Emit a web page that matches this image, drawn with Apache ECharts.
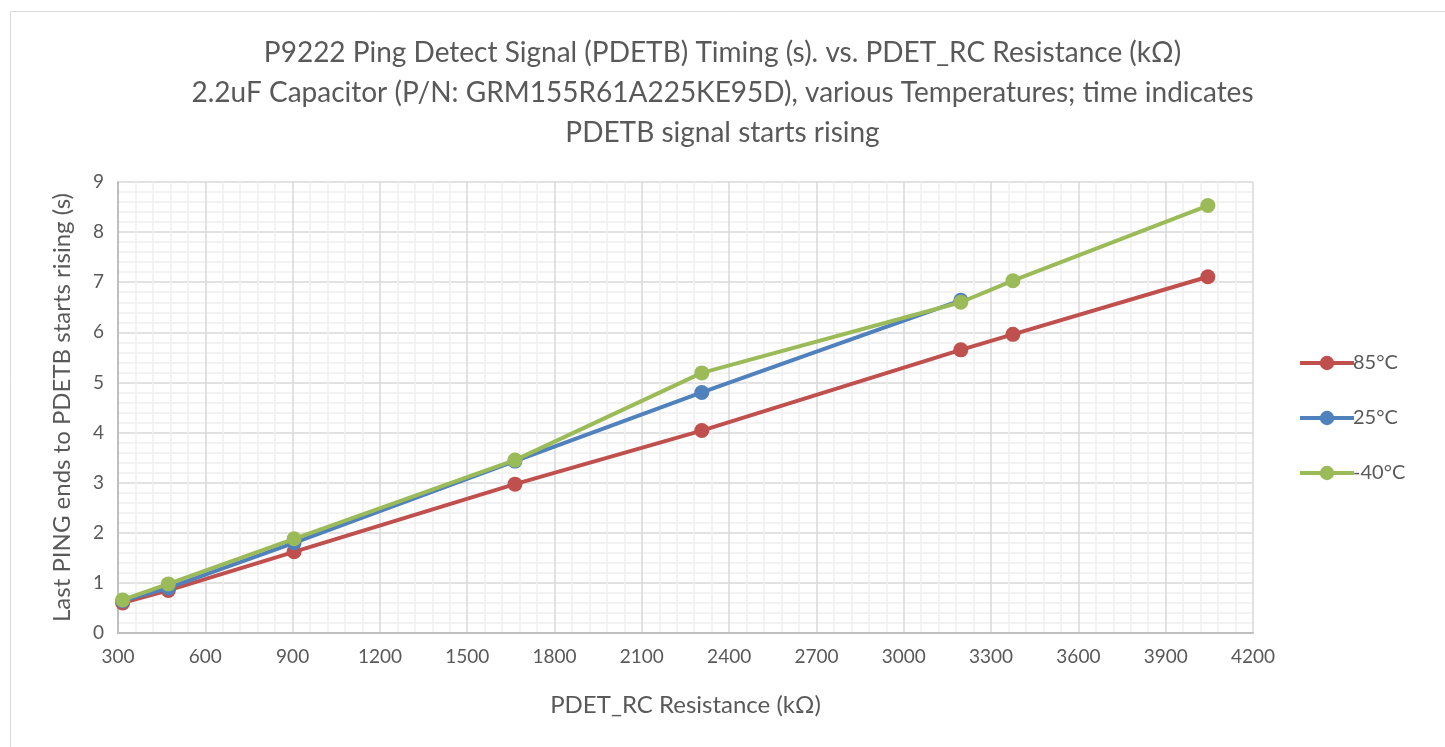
<!DOCTYPE html>
<html>
<head>
<meta charset="utf-8">
<script src="https://cdn.jsdelivr.net/npm/echarts@6/dist/echarts.min.js"></script>
<style>
  html, body { margin: 0; padding: 0; background: #fff; }
  #chart { width: 1445px; height: 747px; }
</style>
</head>
<body>
<div id="chart"></div>
<script>
// resistance values (kΩ) on the x axis
const resistance = [316, 473, 905, 1664, 2306, 3196, 3375, 4045];
// timing (s) per temperature
const t85 = [0.60, 0.85, 1.62, 2.97, 4.04, 5.65, 5.96, 7.11];
const t25 = [0.64, 0.90, 1.80, 3.43, 4.80, 6.64];
const tMinus40 = [0.66, 0.98, 1.88, 3.45, 5.19, 6.60, 7.03, 8.53];
const seriesNames = ['85°C', '25°C', '-40°C'];
const titleLines = [
  'P9222 Ping Detect Signal (PDETB) Timing (s). vs. PDET_RC Resistance (kΩ)',
  '2.2uF Capacitor (P/N: GRM155R61A225KE95D), various Temperatures; time indicates',
  'PDETB signal starts rising'
];

const FONT = 'Lato';
const colors = ['#C0504D', '#4F81BD', '#9BBB59'];
const pair = (ys) => ys.map((y, i) => [resistance[i], y]);

const chart = echarts.init(document.getElementById('chart'));

const mkSeries = (name, ys, color, z) => ({
  name,
  type: 'line',
  data: pair(ys),
  symbol: 'circle',
  symbolSize: 15,
  z,
  lineStyle: { color, width: 4 },
  itemStyle: { color },
  emphasis: { disabled: true },
  animation: false
});

chart.setOption({
  animation: false,
  textStyle: { fontFamily: FONT },
  graphic: [{
    type: 'rect',
    shape: { x: 10.5, y: 11.5, width: 1445, height: 760 },
    style: { fill: 'none', stroke: '#D9D9D9', lineWidth: 1 },
    silent: true
  }],
  title: {
    text: titleLines.join('\n'),
    left: 'center',
    top: 28,
    textStyle: {
      fontFamily: FONT,
      fontSize: 28,
      fontWeight: 'normal',
      color: '#595959',
      lineHeight: 40
    }
  },
  legend: {
    orient: 'vertical',
    left: 1293,
    top: 348,
    itemWidth: 54,
    itemHeight: 18,
    itemGap: 35,
    data: seriesNames,
    lineStyle: { width: 4 },
    textStyle: { fontFamily: FONT, fontSize: 20, color: '#595959', padding: [0, 0, 0, -6] }
  },
  grid: { left: 118, right: 192, top: 182, bottom: 114 },
  xAxis: {
    type: 'value',
    min: 300,
    max: 4200,
    interval: 300,
    name: 'PDET_RC Resistance (kΩ)',
    nameLocation: 'middle',
    nameGap: 60,
    nameTextStyle: { fontFamily: FONT, fontSize: 24, color: '#595959' },
    axisLine: { show: true, lineStyle: { color: '#BFBFBF', width: 2 } },
    axisTick: { show: false },
    axisLabel: { fontFamily: FONT, fontSize: 19, color: '#595959', margin: 14, formatter: (v) => String(v) },
    splitLine: { show: true, lineStyle: { color: '#D9D9D9', width: 1.5 } },
    minorTick: { show: false, splitNumber: 5 },
    minorSplitLine: { show: true, lineStyle: { color: '#F0F0F0', width: 1.5 } }
  },
  yAxis: {
    type: 'value',
    min: 0,
    max: 9,
    interval: 1,
    name: 'Last PING ends to PDETB starts rising (s)',
    nameLocation: 'middle',
    nameGap: 44,
    nameTextStyle: { fontFamily: FONT, fontSize: 24, color: '#595959' },
    axisLine: { show: true, lineStyle: { color: '#BFBFBF', width: 2 } },
    axisTick: { show: false },
    axisLabel: { fontFamily: FONT, fontSize: 19, color: '#595959', margin: 14 },
    splitLine: { show: true, lineStyle: { color: '#D9D9D9', width: 1.5 } },
    minorTick: { show: false, splitNumber: 5 },
    minorSplitLine: { show: true, lineStyle: { color: '#F0F0F0', width: 1.5 } }
  },
  series: [
    mkSeries(seriesNames[0], t85, colors[0], 2),
    mkSeries(seriesNames[1], t25, colors[1], 3),
    mkSeries(seriesNames[2], tMinus40, colors[2], 4)
  ]
});
</script>
</body>
</html>
